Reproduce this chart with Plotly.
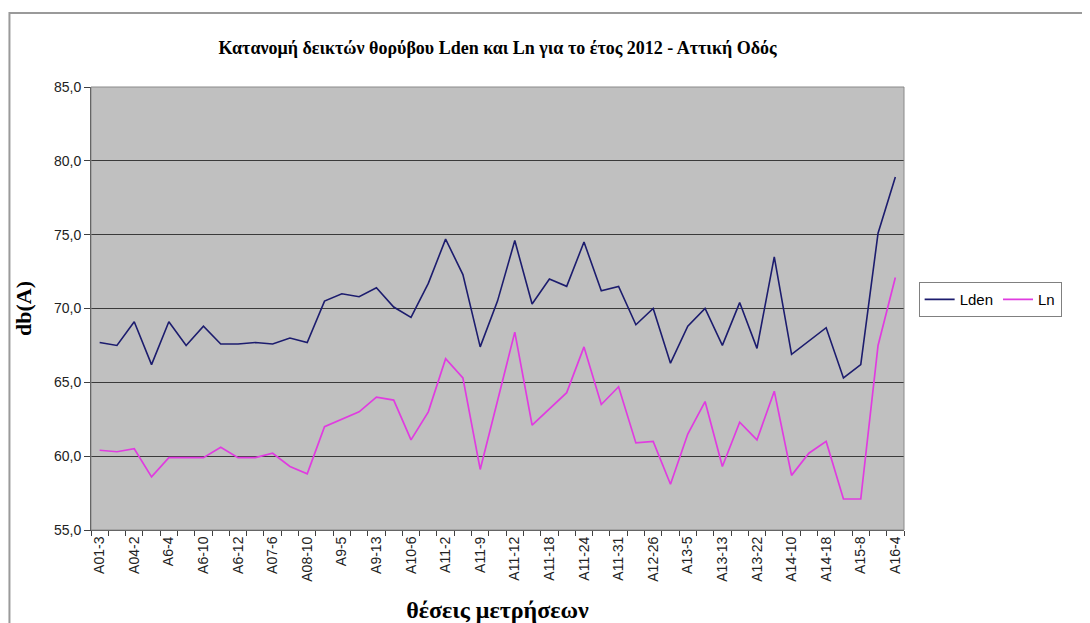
"""
Κατανομή δεικτών θορύβου Lden / Ln - Αττική Οδός 2012.
"""

import plotly.graph_objects as go


# ==========================================================
# DONNEES
# ==========================================================
positions = [
    "A01-3", "A02-1", "A04-2", "A05-1", "A6-4", "A6-7", "A6-10", "A6-11",
    "A6-12", "A07-2", "A07-6", "A08-4", "A08-10", "A9-1", "A9-5", "A9-9",
    "A9-13", "A10-2", "A10-6", "A10-9", "A11-2", "A11-5", "A11-9", "A11-10",
    "A11-12", "A11-15", "A11-18", "A11-21", "A11-24", "A11-28", "A11-31",
    "A12-10", "A12-26", "A13-1", "A13-5", "A13-9", "A13-13", "A13-18",
    "A13-22", "A14-4", "A14-10", "A14-14", "A14-18", "A15-2", "A15-8",
    "A15-12", "A16-4",
]
shown_labels = positions[::2]

lden = [
    67.7, 67.5, 69.1, 66.2, 69.1, 67.5, 68.8, 67.6, 67.6, 67.7, 67.6, 68.0,
    67.7, 70.5, 71.0, 70.8, 71.4, 70.1, 69.4, 71.7, 74.7, 72.3, 67.4, 70.5,
    74.6, 70.3, 72.0, 71.5, 74.5, 71.2, 71.5, 68.9, 70.0, 66.3, 68.8, 70.0,
    67.5, 70.4, 67.3, 73.5, 66.9, 67.8, 68.7, 65.3, 66.2, 75.1, 78.9,
]
ln = [
    60.4, 60.3, 60.5, 58.6, 59.9, 59.9, 59.9, 60.6, 59.9, 59.9, 60.2, 59.3,
    58.8, 62.0, 62.5, 63.0, 64.0, 63.8, 61.1, 63.0, 66.6, 65.3, 59.1, 63.8,
    68.4, 62.1, 63.2, 64.3, 67.4, 63.5, 64.7, 60.9, 61.0, 58.1, 61.5, 63.7,
    59.3, 62.3, 61.1, 64.4, 58.7, 60.2, 61.0, 57.1, 57.1, 67.5, 72.1,
]

SERIF = "Liberation Serif, Times New Roman, serif"
SANS = "Liberation Sans, Arial, sans-serif"


# ==========================================================
# GRAPHIQUE
# ==========================================================
fig = go.Figure()
fig.add_trace(go.Scatter(x=positions, y=lden, name="Lden", mode="lines",
                         line=dict(color="#1c1c6e", width=1.6)))
fig.add_trace(go.Scatter(x=positions, y=ln, name="Ln", mode="lines",
                         line=dict(color="#e03ce0", width=1.7)))

n = len(positions)

# la page ajoute ~8px de marge : on compense dans les marges
fig.update_layout(
    width=1090, height=623,
    margin=dict(l=83, r=194, t=79, b=101),
    paper_bgcolor="white",
    plot_bgcolor="#c0c0c0",
    separators=",.",
    showlegend=True,
    title=dict(
        text="Κατανομή δεικτών θορύβου Lden και Ln για το έτος 2012 - Αττική Οδός",
        x=0.5, xref="paper", xanchor="center", y=0.936, yanchor="middle",
        font=dict(family=SERIF, size=18, color="black", weight="bold"),
    ),
    legend=dict(
        orientation="h", x=1.018, xanchor="left", y=0.52, yanchor="middle",
        bordercolor="#808080", borderwidth=1, bgcolor="white",
        font=dict(family=SANS, size=15, color="black"),
        itemwidth=30,
    ),
    xaxis=dict(
        type="category", range=[-0.5, n - 0.5],
        tickmode="array", tickvals=shown_labels, ticktext=shown_labels,
        tickangle=-90, ticks="", showgrid=False,
        tickfont=dict(family=SANS, size=14, color="#222"),
        showline=True, linecolor="#404040", linewidth=1,
        title=dict(text="θέσεις μετρήσεων", standoff=20,
                   font=dict(family=SERIF, size=24, color="black", weight="bold")),
    ),
    xaxis2=dict(
        overlaying="x", anchor="y", range=[-0.5, n - 0.5],
        tickmode="linear", tick0=-0.5, dtick=1,
        ticks="outside", ticklen=5, tickcolor="#404040",
        showticklabels=False, showgrid=False, zeroline=False,
    ),
    yaxis=dict(
        range=[55, 85], dtick=5, tickformat=".1f",
        ticks="outside", ticklen=6, tickcolor="#404040",
        showgrid=True, gridcolor="#3a3a3a", gridwidth=1,
        zeroline=False,
        showline=True, linecolor="#404040", linewidth=1,
        tickfont=dict(family=SANS, size=14, color="#222"),
        title=dict(text="db(A)", standoff=16,
                   font=dict(family=SERIF, size=22, color="black", weight="bold")),
    ),
)

# trace invisible pour activer l'axe des graduations entre catégories
fig.add_trace(go.Scatter(x=[-0.5], y=[55], xaxis="x2", mode="markers",
                         marker=dict(opacity=0), showlegend=False, hoverinfo="skip"))

# bordure de la zone de tracé
fig.add_shape(type="rect", xref="paper", yref="paper", x0=0, y0=0, x1=1, y1=1,
              line=dict(color="#8a8a8a", width=1))
# cadre du graphique
fig.add_shape(type="rect", xref="paper", yref="paper",
              x0=-0.1003, y0=-0.5, x1=1.4, y1=1.167,
              line=dict(color="#9a9a9a", width=2))

fig.write_html("out.html")
